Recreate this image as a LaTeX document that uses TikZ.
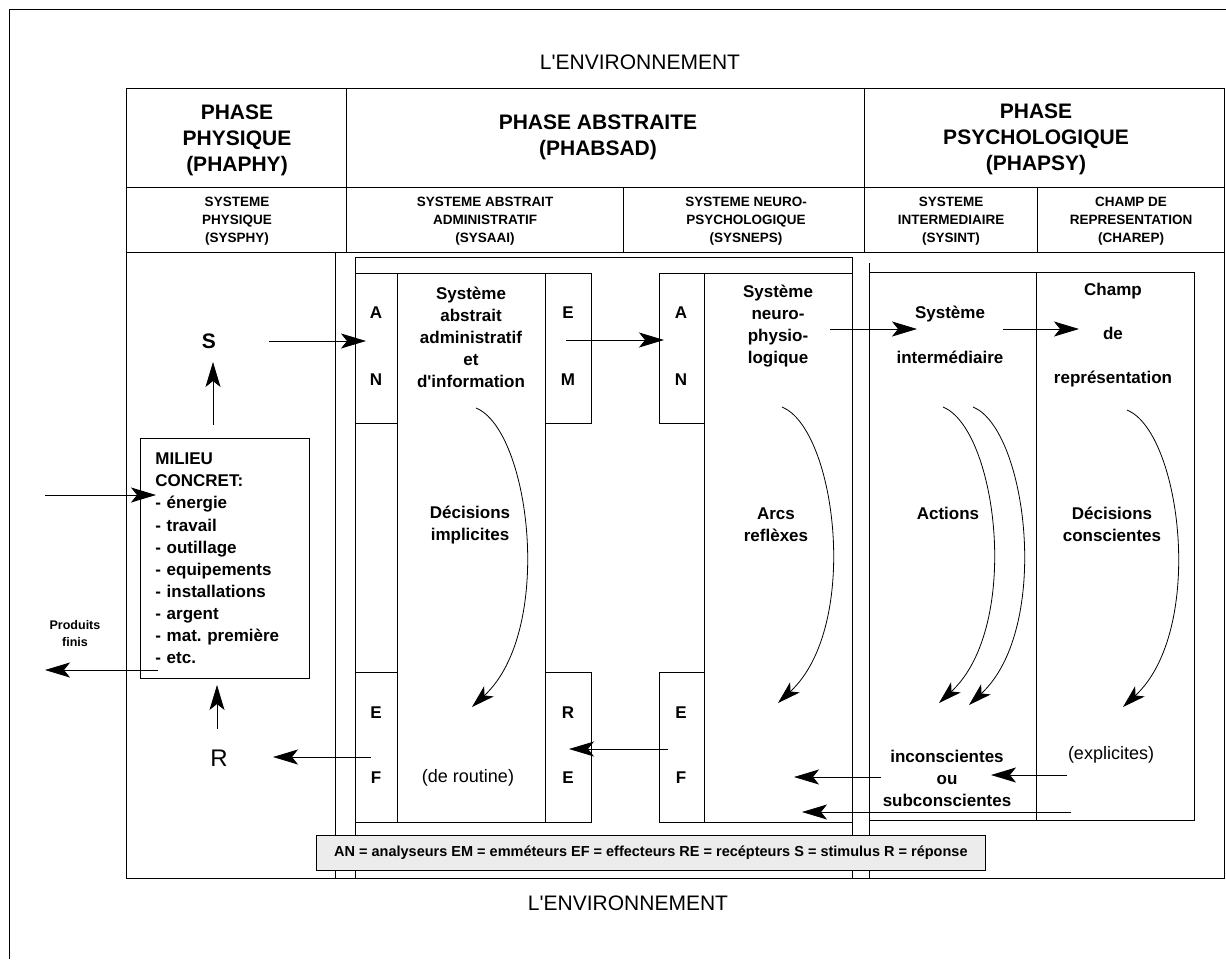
\documentclass[tikz,border=0pt]{standalone}
\usepackage{fontspec}
\setmainfont{Liberation Sans}[Ligatures=TeXOff]
\usetikzlibrary{arrows.meta,positioning}
\tikzstyle{trait} = [line width=0.8pt, draw=black]
\tikzstyle{arrow} = [line width=0.8pt,-{Stealth[length=25pt,width=15pt,inset=6pt]}]
\tikzstyle{curvearrow} = [line width=0.8pt,-{Stealth[length=23pt,width=14pt,inset=6pt]}]
\tikzstyle{titre} = [font=\fontsize{21}{26}\selectfont, inner sep=0pt]
\tikzstyle{phase} = [font=\fontsize{21}{26}\selectfont\bfseries, align=center, inner sep=0pt]
\tikzstyle{systeme} = [font=\fontsize{13.5}{18}\selectfont\bfseries, align=center, inner sep=0pt]
\tikzstyle{texte} = [font=\fontsize{17}{22}\selectfont\bfseries, align=center, inner sep=0pt]
\tikzstyle{fin} = [font=\fontsize{18}{22}\selectfont, align=center, inner sep=0pt]
\tikzstyle{lettre} = [font=\fontsize{17}{22}\selectfont\bfseries, inner sep=0pt]
\frenchspacing
\begin{document}
\begin{tikzpicture}[x=1pt,y=-1pt]
		\useasboundingbox (0,0) rectangle (1226,959);
		% cadres
		\draw [trait] (9,959) -- (9,9) -- (1226,9);
		\draw [trait] (126,88) rectangle (1224,878);
		\draw [trait] (126,187) -- (1224,187);
		\draw [trait] (126,252) -- (1224,252);
		\draw [trait] (346,88) -- (346,252);
		\draw [trait] (864,88) -- (864,252);
		\draw [trait] (623,187) -- (623,252);
		\draw [trait] (1037,187) -- (1037,252);
		\draw [trait] (335,252) -- (335,878);
		\draw [trait] (355,257) rectangle (852,878);
		\draw [trait] (397,273) rectangle (545,822);
		\draw [trait] (355,273) rectangle (397,423);
		\draw [trait] (355,672) rectangle (397,822);
		\draw [trait] (545,273) rectangle (591,423);
		\draw [trait] (545,672) rectangle (591,822);
		\draw [trait] (659,273) rectangle (704,423);
		\draw [trait] (659,672) rectangle (704,822);
		\draw [trait] (704,273) rectangle (852,822);
		\draw [trait] (869,263) -- (869,878);
		\draw [trait] (869,272) -| (1194,820) -- (869,820);
		\draw [trait] (1036,272) -- (1036,820);
		% titres
		\node (env1) [titre] at (640,62) {L'ENVIRONNEMENT};
		\node (env2) [titre] at (628,903) {L'ENVIRONNEMENT};
		\node (ph1) [phase] at (237,140) {PHASE\\PHYSIQUE\\(PHAPHY)};
		\node (ph2) [phase] at (598,137) {PHASE ABSTRAITE\\(PHABSAD)};
		\node (ph3) [phase] at (1036,139) {PHASE\\PSYCHOLOGIQUE\\(PHAPSY)};
		\node (sys1) [systeme] at (237,221) {SYSTEME\\PHYSIQUE\\(SYSPHY)};
		\node (sys2) [systeme] at (485,221) {SYSTEME ABSTRAIT\\ADMINISTRATIF\\(SYSAAI)};
		\node (sys3) [systeme] at (746,221) {SYSTEME NEURO-\\PSYCHOLOGIQUE\\(SYSNEPS)};
		\node (sys4) [systeme] at (951,221) {SYSTEME\\INTERMEDIAIRE\\(SYSINT)};
		\node (sys5) [systeme] at (1131,221) {CHAMP DE\\REPRESENTATION\\(CHAREP)};
		% colonnes
		\node (abs) [texte] at (471,337) {Système\\abstrait\\administratif\\et\\d'information};
		\node (neuro) [texte] at (778,326) {Système\\neuro-\\physio-\\logique};
		\node (inter) [texte] at (950,335) {Système\\[23pt]intermédiaire};
		\node (champ) [texte] at (1113,335) {Champ\\[22pt]de\\[22pt]représentation};
		\node (a1) [lettre] at (376,313) {A};
		\node (n1) [lettre] at (376,380) {N};
		\node (e1) [lettre] at (568,313) {E};
		\node (m1) [lettre] at (568,380) {M};
		\node (a2) [lettre] at (681,313) {A};
		\node (n2) [lettre] at (681,380) {N};
		\node (e2) [lettre] at (376,713) {E};
		\node (f2) [lettre] at (376,778) {F};
		\node (r3) [lettre] at (568,713) {R};
		\node (e3) [lettre] at (568,778) {E};
		\node (e4) [lettre] at (681,713) {E};
		\node (f4) [lettre] at (681,778) {F};
		\node (dec1) [texte] at (470,525) {Décisions\\implicites};
		\node (arcs) [texte] at (776,525) {Arcs\\reflèxes};
		\node (act) [texte] at (948,513) {Actions};
		\node (dec2) [texte] at (1112,524) {Décisions\\conscientes};
		\node (rout) [fin] at (468,778) {(de routine)};
		\node (incons) [texte] at (947,778) {inconscientes\\ou\\subconscientes};
		\node (expl) [fin] at (1111,755) {(explicites)};
		% systeme physique
		\node (milieu) [trait, anchor=north west, text width=139pt, inner xsep=15pt, inner ysep=0pt, minimum height=240pt, align=left, font=\fontsize{17}{22.1}\selectfont\bfseries] at (140,438) {MILIEU\\CONCRET:\\- énergie\\- travail\\- outillage\\- equipements\\- installations\\- argent\\- mat. première\\- etc.};
		\node (s) [font=\fontsize{21}{26}\selectfont\bfseries, inner sep=0pt] at (209,341) {S};
		\node (r) [font=\fontsize{24}{28}\selectfont, inner sep=0pt] at (219,758) {R};
		\node (prod) [font=\fontsize{12.5}{17}\selectfont\bfseries, align=center, inner sep=0pt] at (75,634) {Produits\\finis};
		\node (legende) [trait, fill=gray!15, anchor=north west, minimum width=669pt, minimum height=35pt, inner sep=0pt, font=\fontsize{14.5}{16}\selectfont\bfseries] at (316,835) {AN = analyseurs EM = emméteurs EF = effecteurs RE = recépteurs S = stimulus R = réponse};
		% points des fleches
		\coordinate (in1) at (45,495);
		\coordinate (in2) at (156,495);
		\coordinate (out1) at (158,670);
		\coordinate (out2) at (45,670);
		\coordinate (up1) at (213,425);
		\coordinate (up2) at (213,362);
		\coordinate (up3) at (217,729);
		\coordinate (up4) at (217,685);
		\coordinate (st1) at (269,341);
		\coordinate (st2) at (366,341);
		\coordinate (em1) at (566,340);
		\coordinate (em2) at (664,340);
		\coordinate (ne1) at (830,329);
		\coordinate (ne2) at (917,329);
		\coordinate (in3) at (1003,329);
		\coordinate (in4) at (1079,329);
		\coordinate (ef1) at (371,757);
		\coordinate (ef2) at (273,757);
		\coordinate (ef3) at (668,749);
		\coordinate (ef4) at (569,749);
		\coordinate (ic1) at (881,777);
		\coordinate (ic2) at (794,777);
		\coordinate (ex1) at (1067,775);
		\coordinate (ex2) at (991,775);
		\coordinate (lg1) at (1071,812);
		\coordinate (lg2) at (802,812);
		\coordinate (c1a) at (476,408);
		\coordinate (c1b) at (472,707);
		\coordinate (c2a) at (782,407);
		\coordinate (c2b) at (778,703);
		\coordinate (c3a) at (943,407);
		\coordinate (c3b) at (939,703);
		\coordinate (c4a) at (973,407);
		\coordinate (c4b) at (969,705);
		\coordinate (c5a) at (1127,410);
		\coordinate (c5b) at (1123,707);
		% fleches
		\draw [arrow](in1) -- (in2);
		\draw [arrow](out1) -- (out2);
		\draw [arrow](up1) -- (up2);
		\draw [arrow](up3) -- (up4);
		\draw [arrow](st1) -- (st2);
		\draw [arrow](em1) -- (em2);
		\draw [arrow](ne1) -- (ne2);
		\draw [arrow](in3) -- (in4);
		\draw [arrow](ef1) -- (ef2);
		\draw [arrow](ef3) -- (ef4);
		\draw [arrow](ic1) -- (ic2);
		\draw [arrow](ex1) -- (ex2);
		\draw [arrow](lg1) -- (lg2);
		\draw [curvearrow](c1a) .. controls +(54,22) and +(83,-77) .. (c1b);
		\draw [curvearrow](c2a) .. controls +(54,22) and +(83,-77) .. (c2b);
		\draw [curvearrow](c3a) .. controls +(54,22) and +(83,-77) .. (c3b);
		\draw [curvearrow](c4a) .. controls +(54,22) and +(83,-77) .. (c4b);
		\draw [curvearrow](c5a) .. controls +(54,22) and +(83,-77) .. (c5b);
	\end{tikzpicture}
\end{document}
